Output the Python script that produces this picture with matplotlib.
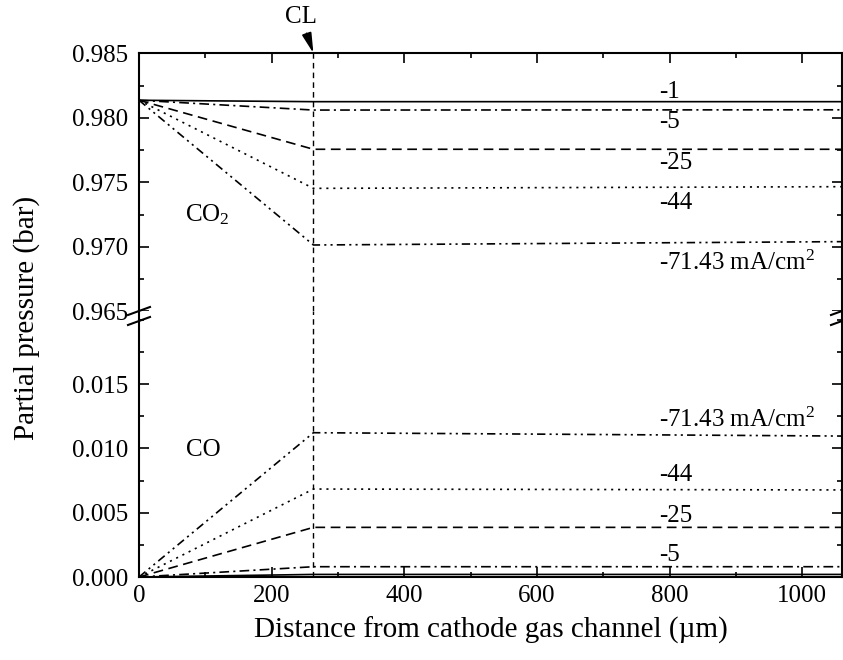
import matplotlib
matplotlib.use("Agg")
import matplotlib.pyplot as plt
from matplotlib.ticker import MultipleLocator, FormatStrFormatter

plt.rcParams['font.family'] = ['Liberation Serif', 'DejaVu Serif']
plt.rcParams['mathtext.fontset'] = 'custom'
plt.rcParams['mathtext.rm'] = 'Liberation Serif'
plt.rcParams['mathtext.it'] = 'Liberation Serif:italic'
plt.rcParams['lines.scale_dashes'] = False

# Distance from the gas channel (um); catalyst layer position
x_pts = [0, 263, 1060]
x_cl = 263

# Current densities (mA/cm2)
current_labels = ["-1", "-5", "-25", "-44", "-71.43 mA/cm$^2$"]

# CO2 partial pressure (bar)
co2_m1 = [0.98136, 0.98125, 0.98125]
co2_m5 = [0.98136, 0.98060, 0.98062]
co2_m25 = [0.98136, 0.97756, 0.97756]
co2_m44 = [0.98136, 0.97453, 0.97466]
co2_m71 = [0.98136, 0.97014, 0.97040]

# CO partial pressure (bar)
co_m1 = [0.0, 0.0002, 0.0002]
co_m5 = [0.0, 0.0008, 0.0008]
co_m25 = [0.0, 0.00386, 0.00386]
co_m44 = [0.0, 0.00684, 0.00677]
co_m71 = [0.0, 0.01122, 0.01096]

styles = ['-', (0, (7, 3, 1.5, 3)), (0, (7, 4)), (0, (1.5, 3.5)),
          (0, (6, 3, 1.5, 3, 1.5, 3))]

W, H = 843, 660
fig = plt.figure(figsize=(W / 100, H / 100), dpi=100)

left, right = 139 / W, 842 / W
y_top, y_mid, y_bot = 53.3, 311.3, 577.0
ax_t = fig.add_axes([left, 1 - y_mid / H, right - left, (y_mid - y_top) / H])
ax_b = fig.add_axes([left, 1 - y_bot / H, right - left, (y_bot - y_mid) / H])

xmax = 1060
ax_t.set_xlim(0, xmax)
ax_b.set_xlim(0, xmax)
ax_t.set_ylim(0.965, 0.985)
ax_b.set_ylim(0.0, (y_bot - y_mid) / 64.3 * 0.005)

lw = 1.2
for ys, ls in zip([co2_m1, co2_m5, co2_m25, co2_m44, co2_m71], styles):
    ax_t.plot(x_pts, ys, color='black', lw=lw, linestyle=ls)
for ys, ls in zip([co_m1, co_m5, co_m25, co_m44, co_m71], styles):
    ax_b.plot(x_pts, ys, color='black', lw=lw, linestyle=ls)

# Catalyst layer boundary
for ax in (ax_t, ax_b):
    ax.axvline(x_cl, color='black', lw=1.0, linestyle=(0, (4, 3)))

fs_tick = 18
fs_txt = 18
fs_lab = 21
for ax in (ax_t, ax_b):
    ax.xaxis.set_major_locator(MultipleLocator(200))
    ax.xaxis.set_minor_locator(MultipleLocator(100))
    ax.yaxis.set_major_locator(MultipleLocator(0.005))
    ax.yaxis.set_minor_locator(MultipleLocator(0.0025))
    ax.yaxis.set_major_formatter(FormatStrFormatter('%.3f'))
    ax.tick_params(which='both', direction='in', top=True, right=True,
                   labelsize=fs_tick, width=1.2)
    ax.tick_params(which='major', length=7)
    ax.tick_params(which='minor', length=3.5)
    for s in ax.spines.values():
        s.set_linewidth(1.5)
    ax.tick_params(axis='y', pad=8)
    ax.tick_params(axis='x', pad=6)

ax_t.spines['bottom'].set_visible(False)
ax_t.tick_params(axis='x', which='both', bottom=False, labelbottom=False)
ax_b.spines['top'].set_visible(False)
ax_b.tick_params(axis='x', which='both', top=False)
ax_b.set_yticks([0.0, 0.005, 0.010, 0.015])

# Curve labels
tx = 784
for lab, yv in zip(current_labels, [0.98202, 0.97970, 0.97650, 0.97340, 0.96875]):
    ax_t.text(tx, yv, lab, fontsize=fs_txt, ha='left', va='center')
for lab, yv in zip(current_labels[1:], [0.00171, 0.00474, 0.00793, 0.01221]):
    ax_b.text(tx, yv, lab, fontsize=fs_txt, ha='left', va='center')

ax_t.text(69, 0.97247, "CO$_2$", fontsize=fs_txt, ha='left', va='center')
ax_b.text(71, 0.00988, "CO", fontsize=fs_txt, ha='left', va='center')

# CL marker with arrow
ax_t.annotate("CL", xy=(x_cl, 0.985), xycoords='data',
              xytext=(301 / W, 1 - 17 / H), textcoords='figure fraction',
              fontsize=fs_txt, ha='center', va='center',
              arrowprops=dict(arrowstyle='-|>,head_length=0.75,head_width=0.18',
                              color='black', lw=1.3,
                              mutation_scale=16, shrinkA=2, shrinkB=0),
              annotation_clip=False)

# Axis break marks
for bx in (139, 842):
    for dy in (-5, 5):
        yc = 316 + dy
        fig.add_artist(plt.Line2D([(bx - 11) / W, (bx + 11) / W],
                                  [1 - (yc + 4) / H, 1 - (yc - 4) / H],
                                  color='black', lw=1.5,
                                  transform=fig.transFigure))

fig.text(491 / W, 1 - 630 / H, "Distance from cathode gas channel (\u00b5m)",
         fontsize=fs_lab, ha='center', va='center')
fig.text(27 / W, 1 - 318 / H, "Partial pressure (bar)", fontsize=fs_lab,
         ha='center', va='center', rotation=90)

fig.savefig("out.png", dpi=100)
